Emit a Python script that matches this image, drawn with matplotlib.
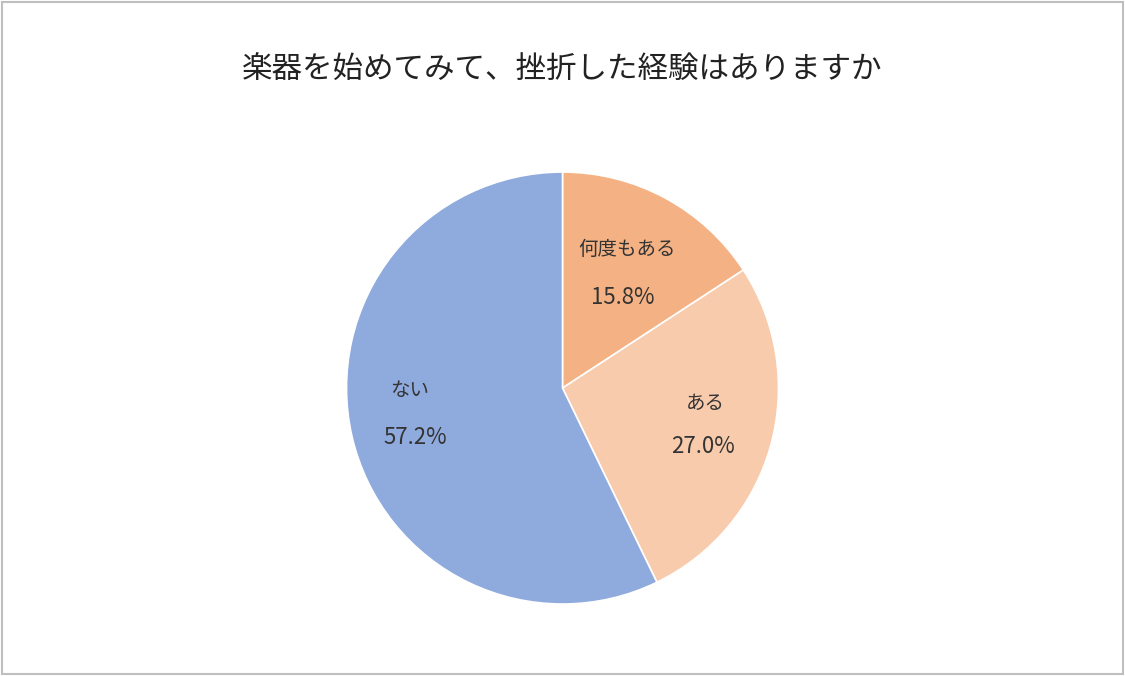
import matplotlib.pyplot as plt
from matplotlib.patches import Rectangle

plt.rcParams['font.family'] = ['Noto Sans CJK JP', 'DejaVu Sans']

title = '楽器を始めてみて、挫折した経験はありますか'
labels = ['何度もある', 'ある', 'ない']
values = [15.8, 27.0, 57.2]
colors = ['#F4B183', '#F8CBAD', '#8FAADC']
# label positions (fraction of radius) for name / percentage
name_pos = [(0.30, 0.64), (0.66, -0.07), (-0.71, -0.01)]
pct_pos = [(0.28, 0.42), (0.65, -0.27), (-0.68, -0.23)]

fig = plt.figure(figsize=(11.25, 6.76), dpi=100)
fig.patches.append(Rectangle((0.002, 0.003), 0.996, 0.994, transform=fig.transFigure,
                             fill=False, edgecolor='#bfbfbf', linewidth=1.5))

ax = fig.add_axes([0.5 - 0.192, 0.426 - 0.3195, 0.384, 0.639])
ax.pie(values, colors=colors, startangle=90, counterclock=False,
       wedgeprops=dict(edgecolor='white', linewidth=1.2))
ax.set_aspect('equal')
ax.set_xlim(-1, 1)
ax.set_ylim(-1, 1)

for lab, v, (nx, ny), (px, py) in zip(labels, values, name_pos, pct_pos):
    ax.text(nx, ny, lab, ha='center', va='center', fontsize=14, color='#333333')
    ax.text(px, py, '{:.1f}%'.format(v), ha='center', va='center', fontsize=16, color='#333333')

fig.text(0.5, 0.896, title, ha='center', va='center', fontsize=22, color='#222222')

fig.savefig('out.png', dpi=100)
